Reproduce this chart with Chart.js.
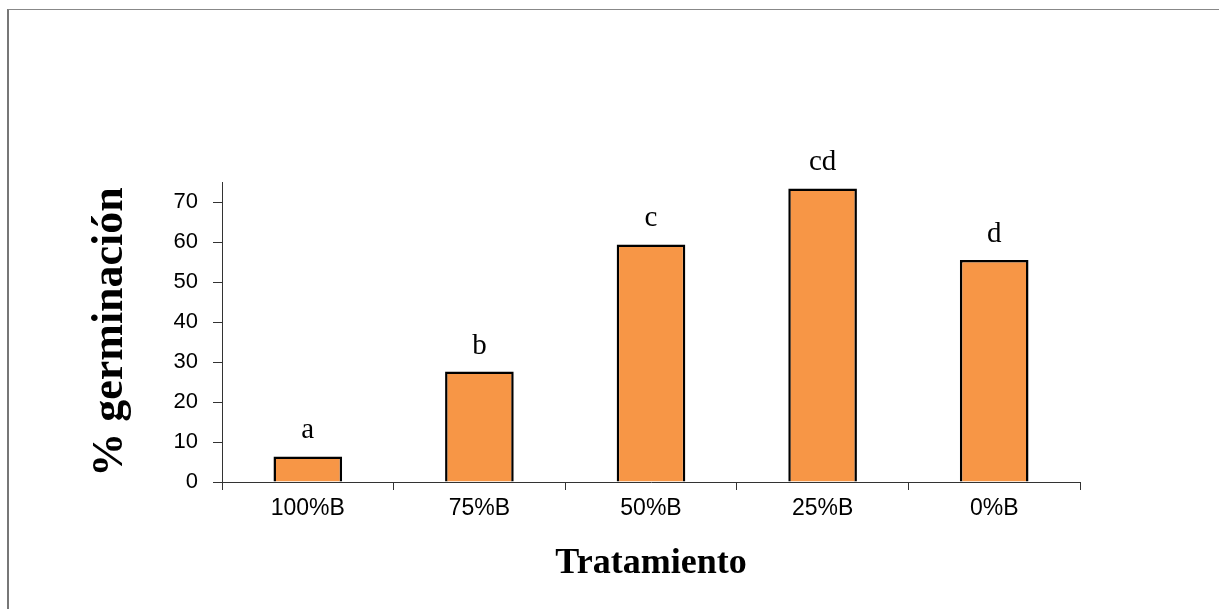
<!DOCTYPE html>
<html>
<head>
<meta charset="utf-8">
<script src="https://cdn.jsdelivr.net/npm/chart.js@4/dist/chart.umd.min.js"></script>
<style>
  html, body { margin: 0; padding: 0; background: #fff; }
  #wrap { position: relative; width: 1219px; height: 609px; }
  #frame { position: absolute; left: 7px; top: 9px; right: 0; bottom: 0;
           border-top: 1px solid #888; border-left: 2px solid #777; pointer-events: none; }
</style>
</head>
<body>
<div id="wrap">
  <canvas id="chart" width="1219" height="609"></canvas>
  <div id="frame"></div>
</div>
<script>
let categories = ["100%B", "75%B", "50%B", "25%B", "0%B"];
let germinacion = [6.4, 27.6, 59.4, 73.4, 55.5];
let letters = ["a", "b", "c", "cd", "d"];
let yTicks = [0, 10, 20, 30, 40, 50, 60, 70];

// letras encima de cada barra
let letterPlugin = {
    id: 'letters',
    afterDatasetsDraw(chart) {
        let ctx = chart.ctx;
        let meta = chart.getDatasetMeta(0);
        ctx.save();
        ctx.font = '29px "Liberation Serif", "Times New Roman", serif';
        ctx.fillStyle = '#000';
        ctx.textAlign = 'center';
        ctx.textBaseline = 'alphabetic';
        meta.data.forEach(function(bar, i) {
            ctx.fillText(letters[i], bar.x, bar.y - 18);
        });
        ctx.restore();
    }
};

let ctx = document.getElementById("chart");
let chart = new Chart(ctx, {
    type: 'bar',
    data: {
        labels: categories,
        datasets: [{
            data: germinacion,
            backgroundColor: '#F79646',
            borderColor: '#000',
            borderWidth: 2.5,
            borderSkipped: 'bottom',
            barPercentage: 0.4,
            categoryPercentage: 1.0
        }]
    },
    options: {
        responsive: false,
        animation: false,
        layout: { padding: { left: 0, top: 182, right: 139, bottom: 0 } },
        plugins: {
            legend: { display: false },
            tooltip: { enabled: false }
        },
        scales: {
            x: {
                afterFit: function(scale) { scale.height = 127; },
                grid: { display: true, drawOnChartArea: false, drawTicks: true, tickLength: 8, color: '#333', offset: true },
                border: { display: true, color: '#333', width: 1 },
                ticks: { color: '#000', padding: 5, font: { family: 'Arial, "Liberation Sans", sans-serif', size: 23 } },
                title: {
                    display: true,
                    text: 'Tratamiento',
                    color: '#000',
                    font: { family: '"Liberation Serif", "Times New Roman", serif', size: 36, weight: 'bold' },
                    padding: { top: 0, bottom: 24 }
                }
            },
            y: {
                min: 0,
                max: 75,
                afterFit: function(scale) { scale.width = 222; },
                afterBuildTicks: function(scale) {
                    scale.ticks = yTicks.map(function(v) { return { value: v }; });
                },
                grid: { display: true, drawOnChartArea: false, drawTicks: true, tickLength: 9, color: '#333' },
                border: { display: true, color: '#333', width: 1 },
                ticks: { color: '#000', padding: 15, font: { family: 'Arial, "Liberation Sans", sans-serif', size: 22 } },
                title: {
                    display: true,
                    text: '% germinación',
                    color: '#000',
                    font: { family: '"Liberation Serif", "Times New Roman", serif', size: 44, weight: 'bold' },
                    padding: { top: 84, bottom: 0 }
                }
            }
        }
    },
    plugins: [letterPlugin]
});
</script>
</body>
</html>
